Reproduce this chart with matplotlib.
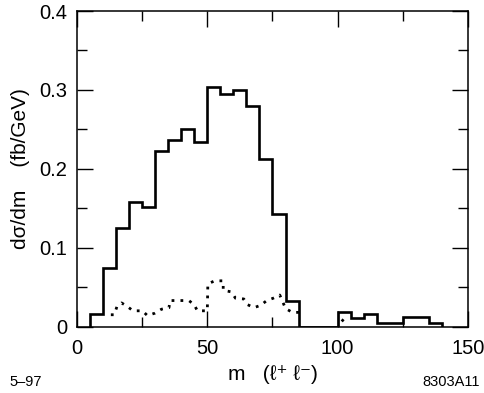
import numpy as np
import matplotlib
matplotlib.use("Agg")
import matplotlib.pyplot as plt
from matplotlib.ticker import MultipleLocator

plt.rcParams['font.family'] = ['Liberation Sans', 'DejaVu Sans']

# solid histogram: 5 GeV bins from 5 to 140
bin_edges = np.arange(5, 145, 5)
solid_vals = [0.016, 0.074, 0.125, 0.158, 0.152, 0.222, 0.236, 0.250, 0.234,
              0.304, 0.295, 0.300, 0.279, 0.213, 0.143, 0.032, 0.0, 0.0, 0.0,
              0.019, 0.011, 0.016, 0.005, 0.005, 0.012, 0.012, 0.004]

# dotted curve
dot_m = [13.0, 14.3, 15.3, 17.1, 19.1, 21.5, 25.1, 27.0, 29.9, 32.4, 35.3, 35.7,
         39.5, 42.9, 44.9, 46.2, 50.0, 50.2, 52.8, 56.1, 56.1, 59.2, 60.8, 64.0,
         65.3, 67.9, 70.5, 72.8, 75.3, 77.8, 80.0, 82.6, 85.5]
dot_v = [0.015, 0.015, 0.025, 0.030, 0.026, 0.020, 0.020, 0.014, 0.017, 0.022,
         0.024, 0.033, 0.033, 0.033, 0.028, 0.020, 0.020, 0.054, 0.058, 0.058,
         0.046, 0.044, 0.036, 0.035, 0.028, 0.024, 0.027, 0.033, 0.036, 0.040,
         0.023, 0.018, 0.018]
dot2_m = [101.5, 104.0]
dot2_v = [0.009, 0.002]

fig = plt.figure(figsize=(4.84, 3.93), dpi=100)
ax = fig.add_axes([0.159, 0.169, 0.808, 0.803])

ax.stairs(solid_vals, bin_edges, baseline=0, color='black', linewidth=1.9)
ax.plot(dot_m, dot_v, color='black', linewidth=2.0, dashes=(1.0, 2.2),
        dash_capstyle='butt')
ax.plot(dot2_m, dot2_v, color='black', linewidth=2.0, dashes=(1.0, 2.2),
        dash_capstyle='butt')

ax.set_xlim(0, 150)
ax.set_ylim(0, 0.4)
ax.xaxis.set_minor_locator(MultipleLocator(25))
ax.yaxis.set_minor_locator(MultipleLocator(0.05))
ax.set_xticks([0, 50, 100, 150])
ax.set_xticklabels(['0', '50', '100', '150'])
ax.set_yticks([0, 0.1, 0.2, 0.3, 0.4])
ax.set_yticklabels(['0', '0.1', '0.2', '0.3', '0.4'])
ax.tick_params(which='both', direction='in', top=True, right=True,
               labelsize=14.5, width=1.0)
ax.tick_params(axis='x', pad=9)
ax.tick_params(axis='y', pad=7)
ax.tick_params(which='major', length=11.5)
ax.tick_params(which='minor', length=7.5)
for s in ax.spines.values():
    s.set_linewidth(1.1)

ax.set_ylabel('d\u03c3/dm    (fb/GeV)', fontsize=15, labelpad=7)
ax.set_xlabel('m   (\u2113\u207a \u2113\u207b)', fontsize=15, labelpad=5)

fig.text(0.02, 0.018, '5\u201397', fontsize=10.5)
fig.text(0.992, 0.018, '8303A11', fontsize=10.5, ha='right')

fig.savefig('out.png', dpi=100)
